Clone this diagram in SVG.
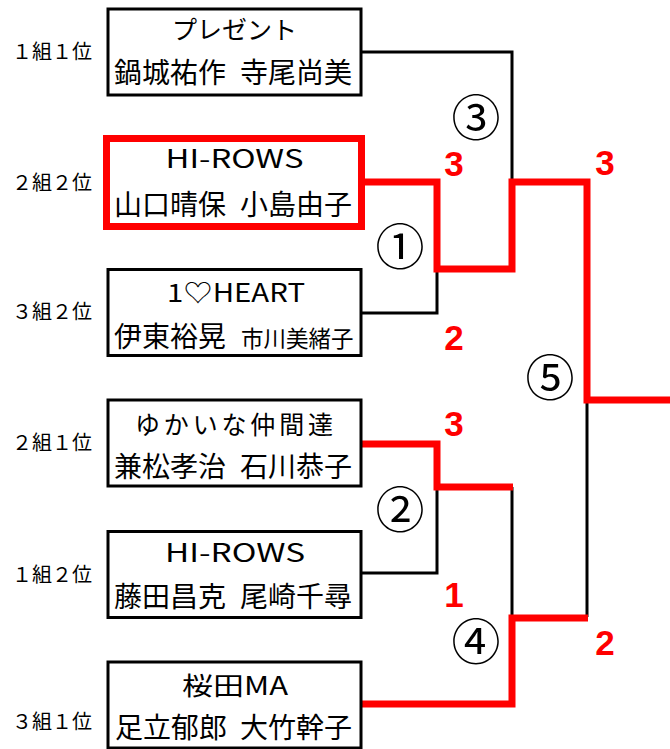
<svg xmlns="http://www.w3.org/2000/svg" width="670" height="749" viewBox="0 0 670 749">
<style>
text{font-family:"Noto Sans CJK JP","Noto Sans",sans-serif;fill:#000}
.lbl{font-size:20px;text-anchor:middle}
.t1{font-size:25px;text-anchor:middle}
.t2{font-size:28px}
.box{fill:#fff;stroke:#000;stroke-width:3}
.rbox{fill:#fff;stroke:#FF0000;stroke-width:7}
.bl{fill:none;stroke:#000;stroke-width:3}
.rl{fill:none;stroke:#FF0000;stroke-width:7;stroke-linejoin:miter}
.sc{font-family:"Liberation Sans",Arial,sans-serif;font-weight:bold;font-size:35px;fill:#FF0000;text-anchor:middle}
.cn{font-size:49px;text-anchor:middle}
</style>
<g id="connectors">
<path class="bl" d="M362 52H512V182"/>
<path class="bl" d="M362 313H437V269"/>
<path class="bl" d="M362 573H437V487"/>
<path class="bl" d="M512 487V617"/>
<path class="bl" d="M587 617V400"/>
<path class="rl" d="M365 182H437V269H512V182H587V400H670"/>
<path class="rl" d="M362 444H437V487H513"/>
<path class="rl" d="M362 704H512V618H588"/>
</g>
<g id="labels">
<text class="lbl" x="52" y="59">１組１位</text>
<text class="lbl" x="52" y="190">２組２位</text>
<text class="lbl" x="52" y="319">３組２位</text>
<text class="lbl" x="52" y="450">２組１位</text>
<text class="lbl" x="52" y="582">１組２位</text>
<text class="lbl" x="52" y="729">３組１位</text>
</g>
<g id="node1">
<rect class="box" x="108" y="9" width="253" height="86"/>
<text class="t1" x="234.5" y="38.5">プレゼント</text>
<text class="t2" y="83"><tspan x="114">鍋城祐作</tspan><tspan x="240">寺尾尚美</tspan></text>
</g>
<g id="node2">
<rect class="rbox" x="106.5" y="138.5" width="255" height="88"/>
<text class="t1" x="234.5" y="168" font-size="23" textLength="138" lengthAdjust="spacingAndGlyphs">HI-ROWS</text>
<text class="t2" y="215"><tspan x="114">山口晴保</tspan><tspan x="240">小島由子</tspan></text>
</g>
<g id="node3">
<rect class="box" x="108" y="269.5" width="253" height="86"/>
<text class="t1" x="236" y="302" font-size="26" textLength="138" lengthAdjust="spacingAndGlyphs">1♡HEART</text>
<text class="t2" x="114" y="347">伊東裕晃</text>
<text x="241" y="347" font-size="22.5">市川美緒子</text>
</g>
<g id="node4">
<rect class="box" x="108" y="400" width="253" height="86"/>
<text class="t1" x="234" y="434" font-size="26" textLength="198" lengthAdjust="spacing">ゆかいな仲間達</text>
<text class="t2" y="477"><tspan x="114">兼松孝治</tspan><tspan x="240">石川恭子</tspan></text>
</g>
<g id="node5">
<rect class="box" x="108" y="531.5" width="253" height="86"/>
<text class="t1" x="235" y="562" font-size="23" textLength="140" lengthAdjust="spacingAndGlyphs">HI-ROWS</text>
<text class="t2" y="607"><tspan x="114">藤田昌克</tspan><tspan x="240">尾崎千尋</tspan></text>
</g>
<g id="node6">
<rect class="box" x="108" y="662" width="253" height="86"/>
<text class="t1" x="235" y="695" font-size="26" textLength="106" lengthAdjust="spacingAndGlyphs">桜田MA</text>
<text class="t2" y="738"><tspan x="115">足立郁郎</tspan><tspan x="240">大竹幹子</tspan></text>
</g>
<g id="scores">
<text class="sc" x="454" y="176">3</text>
<text class="sc" x="605" y="175">3</text>
<text class="sc" x="454" y="350">2</text>
<text class="sc" x="454" y="436">3</text>
<text class="sc" x="454" y="607">1</text>
<text class="sc" x="605" y="655">2</text>
</g>
<g id="matches">
<text class="cn" x="476" y="136">③</text>
<text class="cn" x="400" y="265">①</text>
<text class="cn" x="400" y="528">②</text>
<text class="cn" x="476" y="660">④</text>
<text class="cn" x="550" y="396">⑤</text>
</g>
</svg>
